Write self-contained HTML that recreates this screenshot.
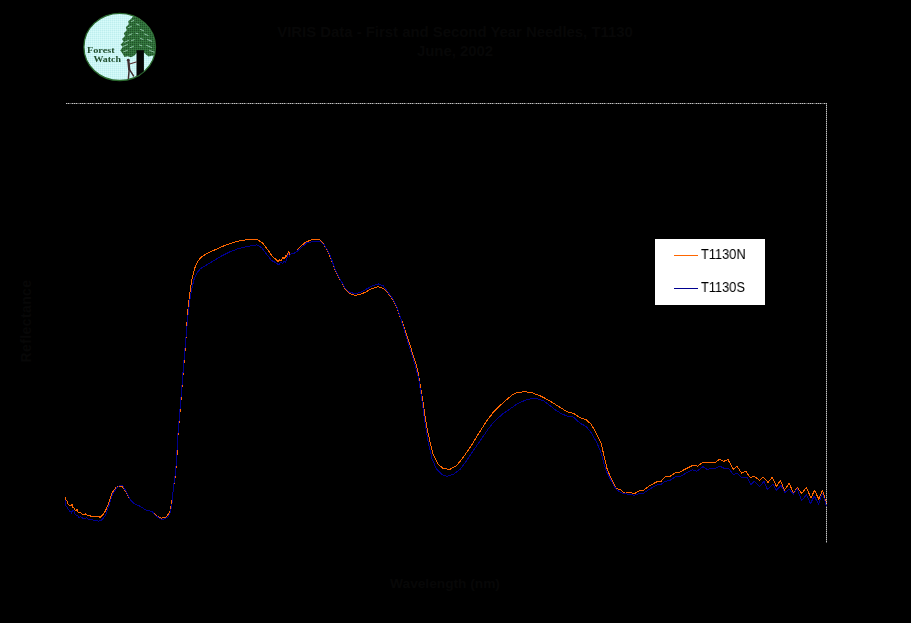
<!DOCTYPE html>
<html>
<head>
<meta charset="utf-8">
<title>Forest Watch - VIRIS Spectra</title>
<style>
  html, body { margin: 0; padding: 0; background: #000; }
  body { width: 911px; height: 623px; overflow: hidden; position: relative;
         font-family: "Liberation Sans", sans-serif; }
  #chart { position: absolute; left: 0; top: 0; width: 911px; height: 623px; background: #000; }
  .title { position: absolute; left: 255px; top: 22.5px; width: 400px; text-align: center;
           color: #070707; font-size: 14.9px; font-weight: bold; line-height: 19px; white-space: nowrap; }
  .xlabel { position: absolute; left: 380px; top: 576px; width: 130px; text-align: center;
            color: #070707; font-size: 13.7px; font-weight: bold; white-space: nowrap; }
  .ylabel { position: absolute; left: -24.4px; top: 313.4px; width: 100px; height: 16px; line-height: 16px; text-align: center;
            color: #070707; font-size: 14px; letter-spacing: 0.4px; font-weight: bold; transform: rotate(-90deg); white-space: nowrap; }
  .border-top { position: absolute; left: 66px; top: 103px; width: 761px; height: 1px;
                background-image: linear-gradient(to right, #c4c4c4 0, #c4c4c4 1px, #5a5a5a 1px, #5a5a5a 2px,
                                  #c4c4c4 2px, #c4c4c4 3px, #5a5a5a 3px, #5a5a5a 4px, #c4c4c4 4px, #c4c4c4 5px, #5a5a5a 5px, #5a5a5a 8px);
                background-size: 8px 1px; background-repeat: repeat-x; background-position: -2px 0; }
  .border-right { position: absolute; left: 826px; top: 103px; width: 1px; height: 440px;
                background: repeating-linear-gradient(to bottom, #c4c4c4 0, #c4c4c4 1px, #5a5a5a 1px, #5a5a5a 2px); }
  .legend { position: absolute; left: 655px; top: 239px; width: 110px; height: 66px; background: #fff; }
  .legend .ln { position: absolute; left: 19px; width: 24px; height: 1.4px; }
  .legend .lb { position: absolute; left: 45.6px; color: #000; font-size: 14px; line-height: 14px;
                transform-origin: left center; transform: scaleX(0.915); white-space: nowrap;
                will-change: transform; }
  svg { position: absolute; left: 0; top: 0; will-change: transform; }
</style>
</head>
<body>
<div id="chart">
  <div class="title"><span id="t1">VIRIS Data - First and Second Year Needles, T1130</span><br><span id="t2">June, 2002</span></div>
  <div class="ylabel"><span id="yl">Reflectance</span></div>
  <div class="xlabel"><span id="xl">Wavelength (nm)</span></div>

  <div class="border-top"></div>
  <div class="border-right"></div>

  <svg width="911" height="623" viewBox="0 0 911 623">
    <polyline fill="none" stroke="#ff6600" stroke-width="1" shape-rendering="crispEdges" stroke-linejoin="round" points="65.4,497.3 65.5,500.0 66.9,500.4 67.3,503.4 68.8,505.0 71.1,505.4 72.3,504.2 72.7,507.3 74.2,508.1 75.4,510.7 77.3,509.6 78.1,512.7 80.8,512.8 82.3,514.2 84.2,515.1 85.7,513.6 86.9,515.1 90.4,515.7 90.7,516.5 93.1,517.1 93.8,516.4 98.4,516.4 100.0,517.3 101.9,515.7 103.8,513.8 105.4,510.7 106.9,507.7 108.4,503.8 110.3,497.7 111.9,493.1 113.8,490.4 115.7,487.7 118.8,486.2 121.9,486.2 123.8,488.5 126.5,493.1 130.0,499.2 133.6,503.2 139.8,506.2 146.0,510.1 152.0,511.5 156.5,516.0 161.8,518.2 166.3,516.8 169.8,512.4 171.6,503.6 173.7,486.0 175.4,475.3 176.9,457.7 177.6,440.0 181.0,400.0 184.4,357.9 185.6,345.0 186.3,333.7 187.7,312.0 189.7,294.2 191.7,280.3 194.6,268.5 197.6,261.6 201.6,256.6 208.5,252.7 216.4,249.1 224.3,245.7 232.2,242.8 240.1,240.8 248.0,239.4 256.9,239.4 262.8,243.2 267.7,249.7 271.7,255.6 276.6,260.2 278.0,261.8 279.6,259.8 281.2,260.6 282.8,257.2 284.3,259.0 285.9,255.6 287.1,256.6 288.5,251.3 289.9,254.6 291.5,253.8 295.4,252.7 300.3,246.7 305.3,242.4 311.2,239.8 319.1,239.4 323.1,243.2 327.0,249.7 331.0,258.6 334.9,269.5 337.8,275.4 341.7,282.4 345.7,289.7 349.6,293.6 354.6,295.2 359.5,294.8 365.4,292.2 371.4,288.9 378.3,286.7 383.2,288.3 388.2,293.2 393.1,300.1 397.1,308.0 400.0,316.9 403.0,323.9 406.0,332.7 408.9,341.6 411.5,349.9 413.3,355.7 417.5,369.2 420.2,384.9 423.1,402.9 426.5,425.4 429.8,441.1 433.2,454.6 437.7,463.6 443.3,468.8 450.1,469.2 456.8,465.4 463.5,456.9 471.4,445.6 478.1,434.4 486.0,422.0 493.9,411.5 502.9,402.9 511.9,395.1 517.5,392.4 525.3,391.7 532.1,392.8 541.1,396.2 550.1,401.1 559.0,406.7 567.3,411.9 573.6,413.4 579.8,417.5 586.1,419.6 591.3,424.4 596.5,433.8 600.7,442.1 603.8,454.7 606.9,468.2 611.1,478.7 616.3,488.5 620.5,489.7 624.7,493.3 628.8,492.2 634.1,493.7 640.3,490.5 643.4,490.5 649.7,485.5 657.0,481.8 661.2,481.2 665.3,476.6 669.5,476.6 675.8,472.4 679.9,472.0 686.2,468.6 692.5,465.5 697.7,466.1 702.9,462.4 715.4,462.4 719.6,459.3 724.0,461.3 727.9,459.4 733.2,469.2 737.1,466.3 741.7,473.2 745.7,471.2 750.3,477.5 754.2,476.2 759.5,480.2 763.2,477.3 768.1,482.4 772.3,477.3 776.6,486.8 780.3,480.4 784.5,490.0 789.2,483.2 793.5,493.3 797.3,487.4 801.7,493.3 806.5,487.4 810.9,498.0 814.6,490.3 818.8,499.3 822.5,490.3 826.4,503.2"/>
    <polyline fill="none" stroke="#000090" stroke-width="1" shape-rendering="crispEdges" stroke-linejoin="round" points="65.4,500.4 65.5,505.0 67.3,507.7 69.6,511.1 71.5,511.5 71.5,513.4 72.7,510.4 73.8,510.0 74.6,513.4 75.8,515.0 77.7,515.4 78.8,517.3 80.8,516.9 83.1,518.4 85.4,518.4 86.5,517.7 88.1,519.2 90.7,520.0 92.3,519.7 94.6,520.5 96.9,520.4 98.4,521.1 100.0,520.4 101.5,520.0 103.4,518.1 105.4,515.4 107.3,510.4 109.2,505.0 111.1,498.8 113.0,493.5 115.0,490.4 116.9,487.7 119.2,485.8 122.6,485.6 124.6,488.8 126.5,491.9 130.0,499.2 133.6,503.2 139.8,506.2 146.0,510.1 152.0,511.5 156.5,516.5 162.7,519.8 168.0,516.8 170.5,512.4 172.0,503.6 173.5,486.0 175.2,475.3 176.7,457.7 177.4,440.0 180.8,400.0 184.2,357.9 185.3,345.0 188.3,312.0 190.7,294.2 193.7,280.3 196.6,273.4 200.6,268.5 207.5,264.5 214.4,260.2 222.3,255.6 230.2,251.7 238.1,248.7 248.0,246.3 256.9,244.8 261.8,247.7 266.8,254.6 271.7,260.6 275.6,262.5 278.6,264.9 280.6,262.5 282.6,263.5 284.1,261.2 285.5,262.1 287.1,257.6 288.5,253.7 289.5,256.2 290.7,254.2 295.4,252.7 301.3,247.7 307.3,242.4 313.2,241.8 320.1,241.2 324.1,244.8 328.0,250.7 331.0,257.6 334.9,269.0 337.8,275.0 341.7,282.0 345.7,289.0 349.6,292.2 354.6,293.6 359.5,292.8 365.4,289.7 371.4,286.3 378.3,283.9 383.2,285.9 388.2,292.2 393.1,299.2 397.1,307.1 400.0,316.0 405.0,332.7 409.9,348.6 413.6,360.2 418.6,378.2 422.0,400.7 425.3,425.4 428.7,444.5 432.1,459.1 436.6,469.2 442.2,474.8 446.7,476.4 453.4,474.4 460.2,469.2 466.9,460.2 473.7,450.1 481.5,438.9 488.3,428.8 493.9,422.0 502.9,413.7 509.6,409.2 517.5,403.6 525.3,400.2 532.1,398.4 537.7,398.9 543.3,400.7 550.1,405.6 555.7,410.1 561.3,413.7 567.3,416.1 573.6,417.1 579.8,423.0 586.1,426.5 591.3,432.8 596.5,442.1 600.7,451.5 603.8,463.0 606.9,472.4 611.1,480.7 616.3,489.7 622.6,493.3 628.8,494.3 634.1,495.3 640.3,493.3 643.4,493.3 649.7,489.1 657.0,484.9 661.2,484.3 665.3,481.2 669.5,480.7 675.8,476.6 679.9,476.6 686.2,473.0 692.5,469.7 696.6,471.4 702.9,466.6 707.1,469.3 715.4,468.2 720.0,466.3 724.0,468.3 728.6,468.3 733.2,474.5 737.1,473.2 741.7,477.5 747.0,477.5 751.0,484.4 754.5,481.2 759.5,486.4 764.1,481.5 767.4,489.4 772.7,484.1 776.6,490.3 780.9,485.4 784.8,492.4 789.2,489.4 793.5,494.0 797.1,488.7 801.7,500.6 806.5,494.7 810.5,503.5 814.2,496.0 818.5,504.1 822.5,493.3 826.4,505.9"/>

    <!-- Forest Watch logo -->
    <g id="logo">
      <defs>
        <clipPath id="lc"><ellipse cx="119.7" cy="46.9" rx="35.6" ry="33.4"/></clipPath>
        <pattern id="dith" width="2" height="2" patternUnits="userSpaceOnUse">
          <rect width="2" height="2" fill="#ccf6f5"/>
          <rect width="1" height="1" fill="#bdeeee"/>
          <rect x="1" y="1" width="1" height="1" fill="#d8fbfa"/>
        </pattern>
        <pattern id="tdith" width="2" height="2" patternUnits="userSpaceOnUse">
          <rect width="2" height="2" fill="#2f6e39"/>
          <rect width="1" height="1" fill="#1f5228"/>
          <rect x="1" y="1" width="1" height="1" fill="#3a7d44"/>
        </pattern>
      </defs>
      <ellipse cx="119.7" cy="46.9" rx="35.8" ry="33.6" fill="url(#dith)" stroke="#2b6a2f" stroke-width="1.3"/>
      <g clip-path="url(#lc)">
        <!-- foliage -->
        <path d="M133.9 15.2 L136.5 16.2 L141 18.6 L146 22.5 L150 26.5 L153 31.5 L155 37.5 L156.5 45 L156.5 53 L154.5 55.4 L151.5 55.8 L148.5 56.4 L146 54.6 L144 52.4 L140 51.5 L137 52.5 L134.5 55.5 L131 57.2 L127.5 56.2 L124.5 57 L122.5 53.5 L120.3 50.5 L122.6 47 L120.6 44.6 L123.6 41.4 L122 39 L125 36 L123.8 33.2 L126.8 30.2 L125.8 27.2 L128.8 24.2 L128.2 21.2 L131.2 18.8 Z" fill="url(#tdith)"/>
        <!-- light flecks between branches -->
        <g stroke="#a9dcc4" stroke-width="0.9" stroke-linecap="round" fill="none" opacity="0.85">
          <path d="M131.5 21.5 l2.4 -1.1"/>
          <path d="M136.5 24 l2.6 1.0"/>
          <path d="M128.4 27.6 l3.0 -1.2"/>
          <path d="M140.5 29.5 l3.2 1.3"/>
          <path d="M128.6 35.2 l3.4 -1.4"/>
          <path d="M144.5 34 l3.6 1.5"/>
          <path d="M136 33.2 l2.0 0.6"/>
          <path d="M124.6 42.2 l4.0 -1.8"/>
          <path d="M131.5 40.6 l2.6 -0.8"/>
          <path d="M147.5 39.6 l4.2 1.6"/>
          <path d="M140.4 38.4 l2.6 1.0"/>
          <path d="M122.8 46.6 l4.6 -2.0"/>
          <path d="M130.2 47.6 l3.2 -1.2"/>
          <path d="M146.6 45.4 l4.8 2.0"/>
          <path d="M149.6 50.4 l4.6 1.8"/>
          <path d="M123.8 51.6 l3.6 -1.2"/>
          <path d="M139.5 45 l2.4 0.8"/>
        </g>
        <!-- trunk -->
        <rect x="136.5" y="50.2" width="7.4" height="26" fill="#050505"/>
        <!-- person -->
        <g fill="none" stroke="#3f2d2e" stroke-linecap="round" stroke-linejoin="round">
          <circle cx="128.3" cy="60.2" r="1.45" fill="#3f2d2e" stroke="none"/>
          <path d="M128.5 61.8 L129.2 69.4" stroke-width="2.3"/>
          <path d="M129.6 64.0 L136.2 62.0" stroke-width="1.3" stroke="#5a3030"/>
          <path d="M129.2 69.4 L128.4 78.6" stroke-width="1.5"/>
          <path d="M129.4 69.4 L133.6 76.0" stroke-width="1.4"/>
        </g>
      </g>
      <text x="87" y="53.0" font-family="Liberation Serif, serif" font-weight="bold" font-size="9.2" fill="#22502f" textLength="27.6" lengthAdjust="spacingAndGlyphs">Forest</text>
      <text x="93.4" y="62.2" font-family="Liberation Serif, serif" font-weight="bold" font-size="9.2" fill="#22502f" textLength="27.6" lengthAdjust="spacingAndGlyphs">Watch</text>
    </g>
  </svg>

  <div class="legend">
    <div class="ln" style="top:15.8px;background:#ff6600;"></div>
    <div class="lb" style="top:8px;">T1130N</div>
    <div class="ln" style="top:48.8px;background:#000090;"></div>
    <div class="lb" style="top:41px;">T1130S</div>
  </div>
</div>
</body>
</html>
